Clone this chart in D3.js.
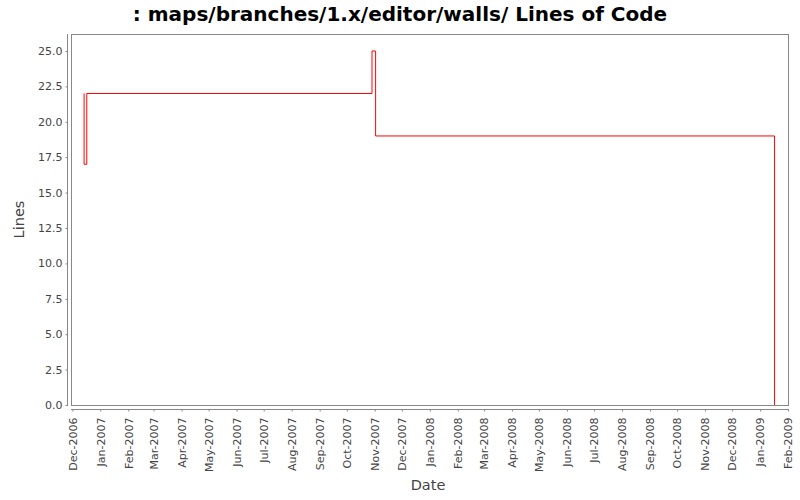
<!DOCTYPE html>
<html><head><meta charset="utf-8">
<script src="https://cdn.jsdelivr.net/npm/d3@7"></script>
<style>body{margin:0;background:#fff;}text{font-family:"DejaVu Sans",sans-serif;}</style>
</head><body>
<svg id="c" width="800" height="500"></svg>
<script>
const dates = ["2006-12-14","2006-12-14","2006-12-17","2007-10-29","2007-11-02","2009-01-17"];
const values = [22,17,22,25,19,0];
const yTicks = [0,2.5,5,7.5,10,12.5,15,17.5,20,22.5,25];
const xTickLabels = ["Dec-2006","Jan-2007","Feb-2007","Mar-2007","Apr-2007","May-2007","Jun-2007","Jul-2007","Aug-2007","Sep-2007","Oct-2007","Nov-2007","Dec-2007","Jan-2008","Feb-2008","Mar-2008","Apr-2008","May-2008","Jun-2008","Jul-2008","Aug-2008","Sep-2008","Oct-2008","Nov-2008","Dec-2008","Jan-2009","Feb-2009"];

const svg = d3.select("#c");
const L=71,R=789,T=34,B=405;
const parse=d3.timeParse("%Y-%m-%d");
const data=dates.map((d,i)=>({d:parse(d),v:values[i]}));
const x=d3.scaleTime().domain([new Date(2006,10,29,12),new Date(2009,1,2)]).range([L,R]);
const y=d3.scaleLinear().domain([0,26.2]).range([B,T]);

svg.append("rect").attr("x",L+0.5).attr("y",T+0.5).attr("width",R-L-1).attr("height",B-T).attr("fill","none").attr("stroke","#888").attr("stroke-width",1);

// y axis
const ya=svg.append("g").attr("transform","translate(67.5,0)").call(d3.axisLeft(y).tickValues(yTicks).tickFormat(d3.format(".1f")).tickSizeOuter(0).tickSize(2).tickPadding(3));
ya.select(".domain").attr("stroke","#888").attr("d",`M0,${T}V${B+1}`);
ya.selectAll(".tick line").attr("stroke","#888");
ya.selectAll(".tick text").attr("fill","#444").attr("font-size","11px").attr("font-family","DejaVu Sans, sans-serif");

// x axis
const xTicks=xTickLabels.map(s=>d3.timeParse("%b-%Y")(s));
const xa=svg.append("g").attr("transform","translate(0,409.5)").call(d3.axisBottom(x).tickValues(xTicks).tickFormat(d3.timeFormat("%b-%Y")).tickSizeOuter(0).tickSize(2));
xa.select(".domain").attr("stroke","#888").attr("d",`M${L},0H${R}`);
xa.selectAll(".tick line").attr("stroke","#888");
xa.selectAll(".tick text").attr("fill","#444").attr("font-size","11px").attr("font-family","DejaVu Sans, sans-serif")
  .attr("transform","rotate(-90)").attr("text-anchor","end").attr("x",-8).attr("y",0).attr("dy","0.35em");

// line
const line=d3.line().x(d=>x(d.d)).y(d=>y(d.v)).curve(d3.curveStepAfter);
svg.append("path").datum(data).attr("d",line).attr("fill","none").attr("stroke","#ff0000").attr("stroke-width",1);

svg.append("text").attr("x",400).attr("y",21).attr("text-anchor","middle").attr("font-size","20px").attr("font-weight","bold").attr("fill","#000").text(": maps/branches/1.x/editor/walls/ Lines of Code");
svg.append("text").attr("x",(L+R)/2-2).attr("y",490).attr("text-anchor","middle").attr("font-size","14.5px").attr("fill","#444").text("Date");
svg.append("text").attr("transform",`translate(24,${(T+B)/2}) rotate(-90)`).attr("text-anchor","middle").attr("font-size","14.5px").attr("fill","#444").text("Lines");
</script>
</body></html>
